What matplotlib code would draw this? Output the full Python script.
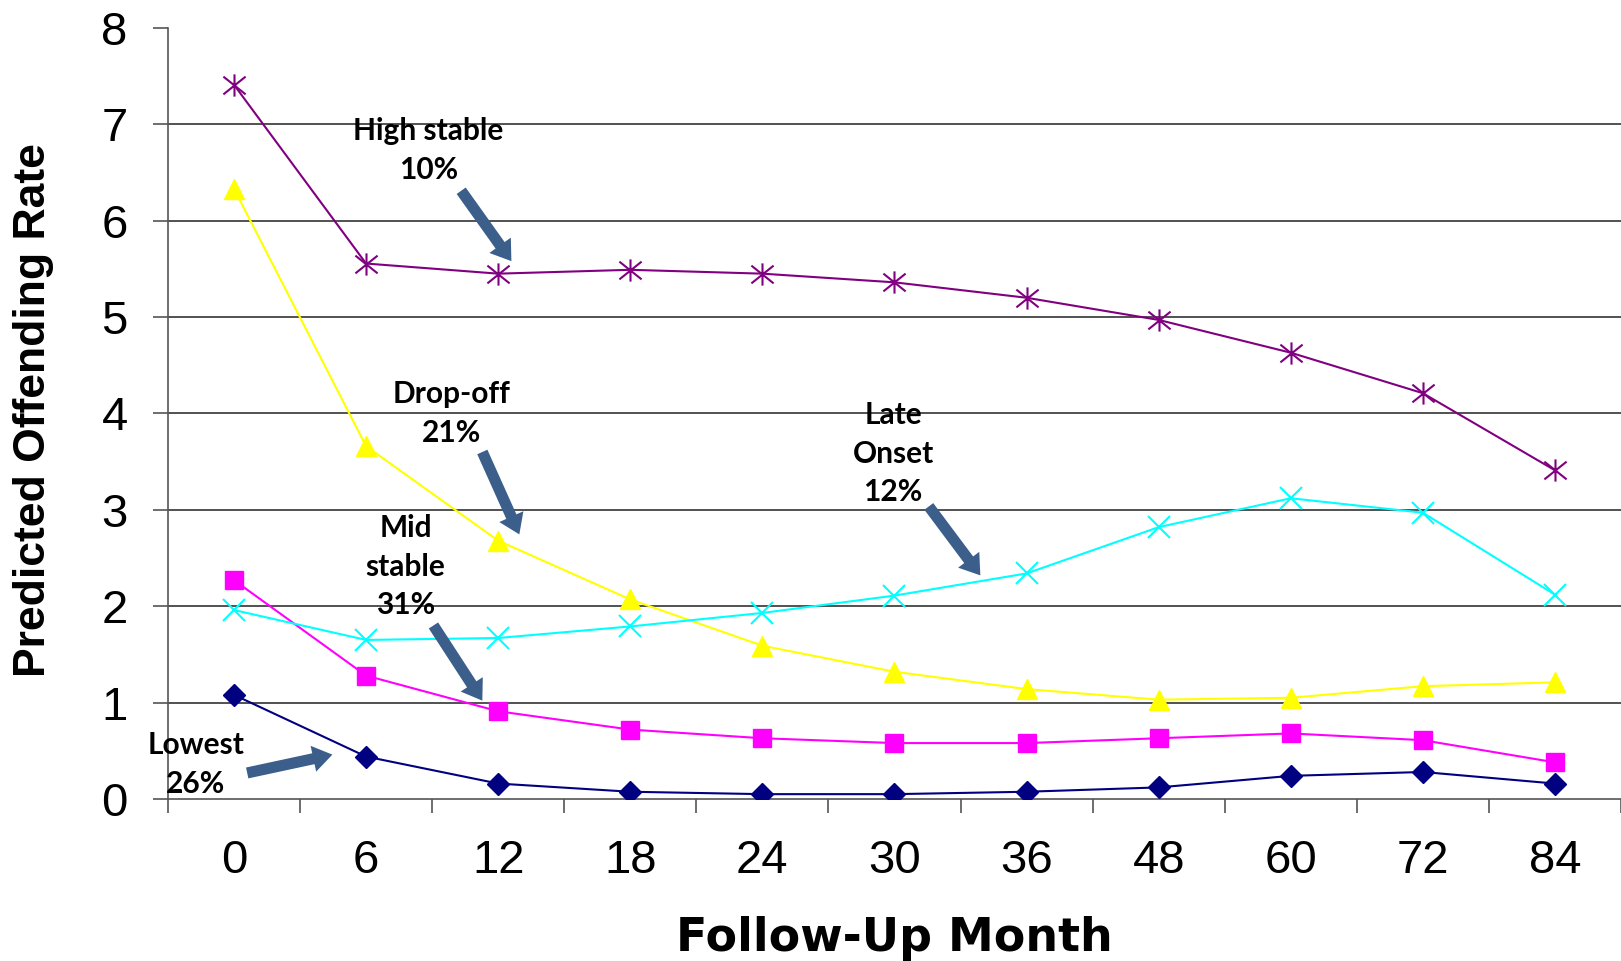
import matplotlib
matplotlib.use("Agg")
import matplotlib.pyplot as plt
from matplotlib.path import Path
from matplotlib.patches import FancyArrowPatch

# Follow-up months (categorical axis)
months = ["0", "6", "12", "18", "24", "30", "36", "48", "60", "72", "84"]

# Predicted offending rate per trajectory group
lowest = [1.08, 0.44, 0.16, 0.075, 0.05, 0.05, 0.075, 0.12, 0.24, 0.28, 0.16]
mid_stable = [2.27, 1.28, 0.91, 0.72, 0.63, 0.58, 0.58, 0.63, 0.68, 0.61, 0.38]
drop_off = [6.33, 3.66, 2.68, 2.07, 1.59, 1.32, 1.14, 1.03, 1.05, 1.17, 1.21]
late_onset = [1.96, 1.65, 1.67, 1.79, 1.93, 2.11, 2.34, 2.82, 3.12, 2.97, 2.12]
high_stable = [7.41, 5.555, 5.45, 5.49, 5.45, 5.36, 5.20, 4.97, 4.63, 4.21, 3.41]

# Group labels: (text, x, y) in data coordinates
group_labels = [
    ("High stable\n10%", 1.47, 6.73),
    ("Drop-off\n21%", 1.65, 4.00),
    ("Late\nOnset\n12%", 4.99, 3.58),
    ("Mid\nstable\n31%", 1.30, 2.41),
    ("Lowest\n26%", -0.29, 0.36),
]
# Pointer arrows: (x_tail, y_tail, x_head, y_head)
pointers = [
    (1.72, 6.31, 2.10, 5.58),
    (1.88, 3.60, 2.16, 2.745),
    (5.26, 3.035, 5.65, 2.32),
    (1.51, 1.80, 1.88, 1.02),
    (0.10, 0.27, 0.745, 0.46),
]

fig = plt.figure(figsize=(16.21, 9.61), dpi=100)
ax = fig.add_axes([0.1036, 0.1686, 0.8964, 0.8024])

x = list(range(len(months)))

# custom asterisk: vertical bar plus an X
star = Path(
    [(0, -1), (0, 1), (-1, -0.8), (1, 0.8), (-1, 0.8), (1, -0.8)],
    [Path.MOVETO, Path.LINETO, Path.MOVETO, Path.LINETO, Path.MOVETO, Path.LINETO],
)

lw = 1.5
ax.plot(x, lowest, color="#000080", lw=lw, marker="D", ms=11, mec="#000080", zorder=3)
ax.plot(x, mid_stable, color="#FF00FF", lw=lw, marker="s", ms=13, mec="#FF00FF", zorder=3)
ax.plot(x, drop_off, color="#FFFF00", lw=lw, marker="^", ms=15, mec="#FFFF00", zorder=3)
ax.plot(x, late_onset, color="#00FFFF", lw=lw, marker="x", ms=16, mew=1.5, zorder=3)
ax.plot(x, high_stable, color="#800080", lw=lw, marker=star, ms=16, mew=1.5, zorder=3)

# horizontal gridlines
for g in range(1, 8):
    ax.axhline(g, color="#333333", lw=1.2, zorder=1)

ax.set_xlim(-0.5, len(months) - 0.5)
ax.set_ylim(0, 8)

ax.set_xticks(x)
ax.set_xticklabels(months)
ax.set_xticks([i - 0.5 for i in range(len(months) + 1)], minor=True)
ax.tick_params(axis="x", which="major", length=0, pad=29, labelsize=34)
ax.tick_params(axis="x", which="minor", length=10, width=1.2, color="#555555", direction="out")

ax.set_yticks(range(0, 9))
ax.tick_params(axis="y", which="major", length=11, width=1.2, color="#555555", pad=18, labelsize=34)

for lab in ax.get_xticklabels() + ax.get_yticklabels():
    lab.set_family("Liberation Sans")

for side in ("top", "right"):
    ax.spines[side].set_visible(False)
for side in ("left", "bottom"):
    ax.spines[side].set_color("#555555")
    ax.spines[side].set_linewidth(1.2)

fig.text(0.5518, 0.0104, "Follow-Up Month", ha="center", va="baseline",
         fontsize=33, fontweight="heavy", family="DejaVu Sans")
fig.text(0.0205, 0.573, "Predicted Offending Rate", ha="center", va="center",
         rotation=90, fontsize=32, fontweight="bold", family="Liberation Sans")

for text, tx, ty in group_labels:
    ax.text(tx, ty, text, ha="center", va="center", fontsize=21.5, fontweight="bold",
            family="Lato", linespacing=1.46, zorder=5)

for x0, y0, x1, y1 in pointers:
    arr = FancyArrowPatch((x0, y0), (x1, y1),
                          arrowstyle="simple,head_length=1.4,head_width=1.9,tail_width=0.8",
                          mutation_scale=10, color="#3B5E8A", lw=0,
                          shrinkA=0, shrinkB=0, zorder=4)
    ax.add_patch(arr)

fig.savefig("out.png", dpi=100)
